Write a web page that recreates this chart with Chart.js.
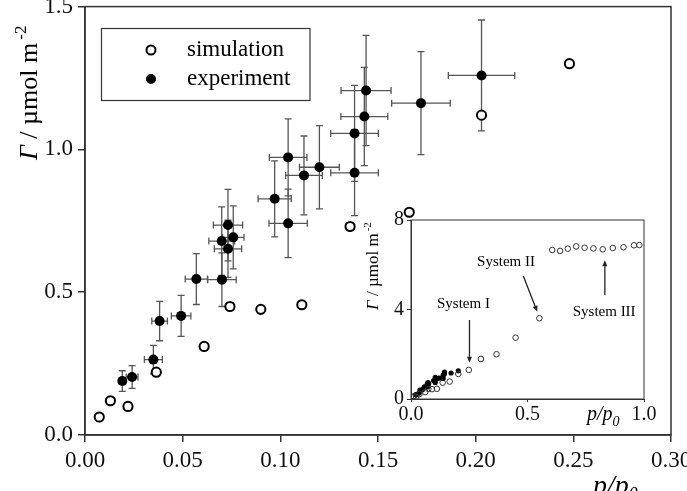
<!DOCTYPE html>
<html>
<head>
<meta charset="utf-8">
<script src="https://cdn.jsdelivr.net/npm/chart.js@4.4.1/dist/chart.umd.min.js"></script>
<style>
  html, body { margin: 0; padding: 0; background: #fff; }
  #wrap { position: relative; width: 687px; height: 491px; overflow: hidden; }
  #main { position: absolute; left: 0; top: 0; }
  #inset { position: absolute; left: 340px; top: 190px; }
</style>
</head>
<body>
<div id="wrap">
  <canvas id="main" width="687" height="491"></canvas>
  <canvas id="inset" width="320" height="250"></canvas>
</div>
<script>
// simulation, main plot (p/p0, Gamma)
const simX = [0.0073, 0.013, 0.022, 0.0365, 0.061, 0.0742, 0.090, 0.111, 0.1357, 0.166, 0.203, 0.248];
const simY = [0.063, 0.12, 0.10, 0.22, 0.31, 0.45, 0.44, 0.456, 0.73, 0.78, 1.12, 1.30];

// simulation points only seen in the inset (higher p/p0)
const simHighX = [0.30, 0.367, 0.449, 0.551, 0.606, 0.640, 0.673, 0.709, 0.745, 0.783, 0.823, 0.866, 0.912, 0.957, 0.980];
const simHighY = [1.79, 2.0, 2.74, 3.61, 6.66, 6.62, 6.72, 6.82, 6.76, 6.73, 6.69, 6.75, 6.78, 6.87, 6.88];

// experiment with error bars
const expX    = [0.0191, 0.0241, 0.035, 0.0382, 0.0492, 0.057, 0.0701, 0.070, 0.0732, 0.0759, 0.0732, 0.0971, 0.104, 0.104, 0.1121, 0.120, 0.138, 0.138, 0.143, 0.1439, 0.172, 0.203];
const expY    = [0.189, 0.203, 0.264, 0.399, 0.417, 0.546, 0.544, 0.679, 0.735, 0.692, 0.652, 0.827, 0.741, 0.972, 0.909, 0.9375, 1.056, 0.918, 1.115, 1.206, 1.162, 1.259];
const expErrX = [0.0017, 0.003, 0.0046, 0.004, 0.005, 0.0057, 0.0073, 0.0066, 0.0075, 0.0055, 0.007, 0.0085, 0.0098, 0.0096, 0.0094, 0.0102, 0.0122, 0.0122, 0.012, 0.0128, 0.015, 0.017];
const expErrY = [0.036, 0.04, 0.05, 0.069, 0.072, 0.089, 0.094, 0.12, 0.125, 0.11, 0.10, 0.133, 0.12, 0.135, 0.138, 0.146, 0.168, 0.15, 0.172, 0.193, 0.18, 0.194];

const xTicks = [0, 0.05, 0.10, 0.15, 0.20, 0.25, 0.30];
const xTickLabels = ['0.00', '0.05', '0.10', '0.15', '0.20', '0.25', '0.30'];
const yTicks = [0, 0.5, 1.0, 1.5];
const yTickLabels = ['0.0', '0.5', '1.0', '1.5'];

const insetXTicks = [0, 0.5, 1.0];
const insetXTickLabels = ['0.0', '0.5', '1.0'];
const insetYTicks = [0, 4, 8];
const insetYTickLabels = ['0', '4', '8'];

// inset labels: text, text position, arrow start, arrow end (inset data units)
const notes = [
  { text: 'System I',   tx: 0.225, ty: 4.23, ax: 0.251, ay: 3.53, bx: 0.251, by: 1.62 },
  { text: 'System II',  tx: 0.408, ty: 6.13, ax: 0.482, ay: 5.5,  bx: 0.542, by: 3.9 },
  { text: 'System III', tx: 0.829, ty: 3.9,  ax: 0.832, ay: 4.65, bx: 0.832, by: 6.2 }
];

const SERIF = "'Liberation Serif', 'Times New Roman', serif";
const AXIS = '#333';

const pts = (xs, ys) => xs.map((x, i) => ({ x: x, y: ys[i] }));

const errorBars = {
  id: 'errorBars',
  beforeDatasetsDraw(chart) {
    const { ctx, scales: { x, y } } = chart;
    ctx.save();
    ctx.strokeStyle = '#555';
    ctx.lineWidth = 1.3;
    const cap = 3.5;
    expX.forEach((v, i) => {
      const px = x.getPixelForValue(v);
      const py = y.getPixelForValue(expY[i]);
      const y1 = y.getPixelForValue(expY[i] - expErrY[i]);
      const y2 = y.getPixelForValue(expY[i] + expErrY[i]);
      const x1 = x.getPixelForValue(v - expErrX[i]);
      const x2 = x.getPixelForValue(v + expErrX[i]);
      ctx.beginPath();
      ctx.moveTo(px, y1); ctx.lineTo(px, y2);
      ctx.moveTo(px - cap, y1); ctx.lineTo(px + cap, y1);
      ctx.moveTo(px - cap, y2); ctx.lineTo(px + cap, y2);
      ctx.moveTo(x1, py); ctx.lineTo(x2, py);
      ctx.moveTo(x1, py - cap); ctx.lineTo(x1, py + cap);
      ctx.moveTo(x2, py - cap); ctx.lineTo(x2, py + cap);
      ctx.stroke();
    });
    ctx.restore();
  }
};

const frame = {
  id: 'frame',
  afterDraw(chart) {
    const { ctx, chartArea: a } = chart;
    ctx.save();
    ctx.strokeStyle = AXIS;
    ctx.lineWidth = chart.canvas.id === 'main' ? 1.5 : 1;
    ctx.strokeRect(a.left, a.top, a.right - a.left, a.bottom - a.top);
    ctx.restore();
  }
};

// rotated "Γ / µmol m-2" title
function gammaTitle(ctx, bx, by, size, supSize) {
  ctx.save();
  ctx.translate(bx, by);
  ctx.rotate(-Math.PI / 2);
  ctx.fillStyle = '#000';
  ctx.textBaseline = 'alphabetic';
  ctx.textAlign = 'left';
  ctx.font = 'italic ' + size + 'px ' + SERIF;
  ctx.fillText('Γ', 0, 0);
  let w = ctx.measureText('Γ').width;
  ctx.font = size + 'px ' + SERIF;
  const rest = ' / µmol m';
  ctx.fillText(rest, w, 0);
  w += ctx.measureText(rest).width + size * 0.12;
  ctx.font = supSize + 'px ' + SERIF;
  ctx.fillText('-2', w, -size * 0.42);
  ctx.restore();
}

const mainTexts = {
  id: 'mainTexts',
  afterDraw(chart) {
    const { ctx } = chart;
    gammaTitle(ctx, 37, 160, 26, 17);

    ctx.save();
    ctx.fillStyle = '#000';
    ctx.font = 'italic 28px ' + SERIF;
    ctx.textBaseline = 'alphabetic';
    ctx.fillText('p/p', 593, 494);
    const w = ctx.measureText('p/p').width;
    ctx.font = 'italic 18px ' + SERIF;
    ctx.fillText('0', 593 + w, 500);

    // legend
    ctx.strokeStyle = AXIS;
    ctx.lineWidth = 1.2;
    ctx.strokeRect(101.5, 28.5, 208.5, 72);
    ctx.beginPath();
    ctx.arc(151, 50, 4.5, 0, Math.PI * 2);
    ctx.fillStyle = '#fff';
    ctx.fill();
    ctx.lineWidth = 2;
    ctx.strokeStyle = '#000';
    ctx.stroke();
    ctx.beginPath();
    ctx.arc(151, 79, 5, 0, Math.PI * 2);
    ctx.fillStyle = '#000';
    ctx.fill();
    ctx.font = '23px ' + SERIF;
    ctx.textBaseline = 'middle';
    ctx.fillText('simulation', 187, 50);
    ctx.fillText('experiment', 187, 79);
    ctx.restore();
  }
};

function fixedTicks(values) {
  return (scale) => { scale.ticks = values.map(v => ({ value: v })); };
}

// fixed axis size, no extra room for overhanging end labels
function fitX(h) {
  return (s) => { s.height = h; s.paddingLeft = 0; s.paddingRight = 0; };
}
function fitY(w) {
  return (s) => { s.width = w; s.paddingTop = 0; s.paddingBottom = 0; };
}

new Chart(document.getElementById('main'), {
  type: 'scatter',
  data: {
    datasets: [
      {
        label: 'simulation',
        data: pts(simX, simY),
        pointRadius: 4.6,
        backgroundColor: '#fff',
        borderColor: '#000',
        borderWidth: 2
      },
      {
        label: 'experiment',
        data: pts(expX, expY),
        pointRadius: 5,
        backgroundColor: '#000',
        borderColor: '#000',
        borderWidth: 0
      }
    ]
  },
  options: {
    responsive: false,
    animation: false,
    layout: { padding: { top: 4, right: 16, left: 0, bottom: 0 } },
    plugins: { legend: { display: false }, tooltip: { enabled: false } },
    scales: {
      x: {
        type: 'linear',
        min: 0, max: 0.3,
        afterBuildTicks: fixedTicks(xTicks),
        afterFit: fitX(56),
        ticks: {
          callback: (v, i) => xTickLabels[i],
          font: { family: SERIF, size: 23 },
          color: '#111',
          padding: 5,
          maxRotation: 0,
          autoSkip: false
        },
        grid: { drawOnChartArea: false, tickLength: 7, color: AXIS, lineWidth: 1.5 },
        border: { color: AXIS, width: 1.5 }
      },
      y: {
        type: 'linear',
        min: 0, max: 1.5,
        afterBuildTicks: fixedTicks(yTicks),
        afterFit: fitY(85),
        ticks: {
          callback: (v, i) => yTickLabels[i],
          font: { family: SERIF, size: 23 },
          color: '#111',
          padding: 5,
          autoSkip: false
        },
        grid: { drawOnChartArea: false, tickLength: 7, color: AXIS, lineWidth: 1.5 },
        border: { color: AXIS, width: 1.5 }
      }
    }
  },
  plugins: [errorBars, frame, mainTexts]
});

const insetTexts = {
  id: 'insetTexts',
  afterDraw(chart) {
    const { ctx, scales: { x, y } } = chart;
    gammaTitle(ctx, 38, 120, 17, 11);

    ctx.save();
    ctx.fillStyle = '#000';
    ctx.font = 'italic 20px ' + SERIF;
    ctx.textBaseline = 'alphabetic';
    ctx.fillText('p/p', 247, 230);
    const w = ctx.measureText('p/p').width;
    ctx.font = 'italic 14px ' + SERIF;
    ctx.fillText('0', 247 + w, 236);

    ctx.font = '15px ' + SERIF;
    ctx.textAlign = 'center';
    ctx.textBaseline = 'middle';
    ctx.strokeStyle = '#222';
    ctx.lineWidth = 1.3;
    notes.forEach(n => {
      ctx.fillStyle = '#000';
      ctx.fillText(n.text, x.getPixelForValue(n.tx), y.getPixelForValue(n.ty));
      const x1 = x.getPixelForValue(n.ax), y1 = y.getPixelForValue(n.ay);
      const x2 = x.getPixelForValue(n.bx), y2 = y.getPixelForValue(n.by);
      const ang = Math.atan2(y2 - y1, x2 - x1);
      const hl = 6, hw = 2.5;
      const bx = x2 - hl * Math.cos(ang), by = y2 - hl * Math.sin(ang);
      ctx.beginPath();
      ctx.moveTo(x1, y1); ctx.lineTo(bx, by);
      ctx.stroke();
      ctx.beginPath();
      ctx.moveTo(x2, y2);
      ctx.lineTo(bx + hw * Math.sin(ang), by - hw * Math.cos(ang));
      ctx.lineTo(bx - hw * Math.sin(ang), by + hw * Math.cos(ang));
      ctx.closePath();
      ctx.fillStyle = '#222';
      ctx.fill();
    });
    ctx.restore();
  }
};

new Chart(document.getElementById('inset'), {
  type: 'scatter',
  data: {
    datasets: [
      {
        label: 'simulation',
        data: pts(simX.concat(simHighX), simY.concat(simHighY)),
        pointRadius: 2.8,
        backgroundColor: 'rgba(255,255,255,0)',
        borderColor: '#333',
        borderWidth: 1
      },
      {
        label: 'experiment',
        data: pts(expX, expY),
        pointRadius: 2.6,
        backgroundColor: '#000',
        borderColor: '#000',
        borderWidth: 0
      }
    ]
  },
  options: {
    responsive: false,
    animation: false,
    layout: { padding: { top: 30, right: 16, left: 0, bottom: 0 } },
    plugins: { legend: { display: false }, tooltip: { enabled: false } },
    scales: {
      x: {
        type: 'linear',
        min: 0, max: 1,
        afterBuildTicks: fixedTicks(insetXTicks),
        afterFit: fitX(41),
        ticks: {
          callback: (v, i) => insetXTickLabels[i],
          font: { family: SERIF, size: 20 },
          color: '#111',
          padding: 1,
          maxRotation: 0,
          autoSkip: false
        },
        grid: { drawOnChartArea: false, tickLength: 3, color: AXIS },
        border: { color: AXIS, width: 1 }
      },
      y: {
        type: 'linear',
        min: 0, max: 8,
        afterBuildTicks: fixedTicks(insetYTicks),
        afterFit: fitY(71),
        ticks: {
          callback: (v, i) => insetYTickLabels[i],
          font: { family: SERIF, size: 20 },
          color: '#111',
          padding: 3,
          autoSkip: false
        },
        grid: { drawOnChartArea: false, tickLength: 4, color: AXIS },
        border: { color: AXIS, width: 1 }
      }
    }
  },
  plugins: [frame, insetTexts]
});
</script>
</body>
</html>
